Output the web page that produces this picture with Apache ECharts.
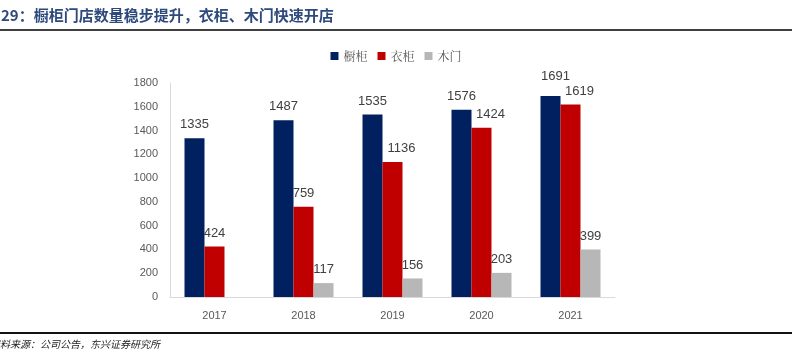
<!DOCTYPE html>
<html><head><meta charset="utf-8">
<script src="https://cdn.jsdelivr.net/npm/echarts@6/dist/echarts.min.js"></script>
<style>html,body{margin:0;padding:0;background:#fff}#c{width:792px;height:356px}</style>
</head><body><div id="c"></div>
<script>
const categories = ['2017','2018','2019','2020','2021'];
const cabinet = [1335,1487,1535,1576,1691];
const wardrobe = [424,759,1136,1424,1619];
const woodDoor = [null,117,156,203,399];
const seriesNames = ['橱柜','衣柜','木门'];
const yTicks = [0,200,400,600,800,1000,1200,1400,1600,1800];

const chart = echarts.init(document.getElementById('c'));
const labelCfg = {show:true, position:'top', distance:7, fontSize:13, color:'#404040', fontFamily:'"Liberation Sans", Arial, sans-serif'};
chart.setOption({
  animation:false,
  backgroundColor:'#fff',
  graphic:[
    {type:'text', left:-14, top:8, style:{text:'图29：橱柜门店数量稳步提升，衣柜、木门快速开店', font:'bold 15px "Noto Sans CJK SC"', fill:'#2E4A7D'}},
    {type:'rect', shape:{x:0,y:29,width:792,height:2}, style:{fill:'#404040'}},
    {type:'rect', shape:{x:0,y:332,width:792,height:2}, style:{fill:'#111'}},
    {type:'text', left:-10, top:339, style:{text:'资料来源：公司公告，东兴证券研究所', font:'italic 10px "Noto Sans CJK SC"', fill:'#222'}}
  ],
  legend:{
    top:45, left:'center', itemWidth:8, itemHeight:8, itemGap:10, icon:'rect',
    textStyle:{fontSize:12, color:'#595959', fontFamily:'"Noto Serif CJK SC","Noto Sans CJK SC"'},
    data:seriesNames
  },
  grid:{left:170, right:177, top:83, bottom:59, containLabel:false},
  xAxis:{
    type:'category', data:categories,
    axisLine:{lineStyle:{color:'#D9D9D9'}},
    axisTick:{show:false},
    axisLabel:{color:'#595959', fontSize:11, margin:13, fontFamily:'"Liberation Sans", Arial'}
  },
  yAxis:{
    type:'value', min:yTicks[0], max:yTicks[yTicks.length-1], interval:200,
    axisLine:{show:true, lineStyle:{color:'#D9D9D9'}},
    axisTick:{show:false},
    splitLine:{show:false},
    axisLabel:{color:'#595959', fontSize:11, margin:12, fontFamily:'"Liberation Sans", Arial', formatter:function(v){return String(v);}}
  },
  labelLayout:function(p){
    if(p.seriesIndex===1 && p.dataIndex>=2) return {dx:9};
    if(p.seriesIndex===0 && p.dataIndex===4) return {dx:5, dy:-6};
    return {};
  },
  series:[
    {name:seriesNames[0], type:'bar', data:cabinet, barWidth:20, barGap:'0%', itemStyle:{color:'#002060'}, label:labelCfg},
    {name:seriesNames[1], type:'bar', data:wardrobe, barWidth:20, barGap:'0%', itemStyle:{color:'#C00000'}, label:labelCfg},
    {name:seriesNames[2], type:'bar', data:woodDoor, barWidth:20, barGap:'0%', itemStyle:{color:'#B7B7B7'}, label:labelCfg}
  ]
});
</script></body></html>
